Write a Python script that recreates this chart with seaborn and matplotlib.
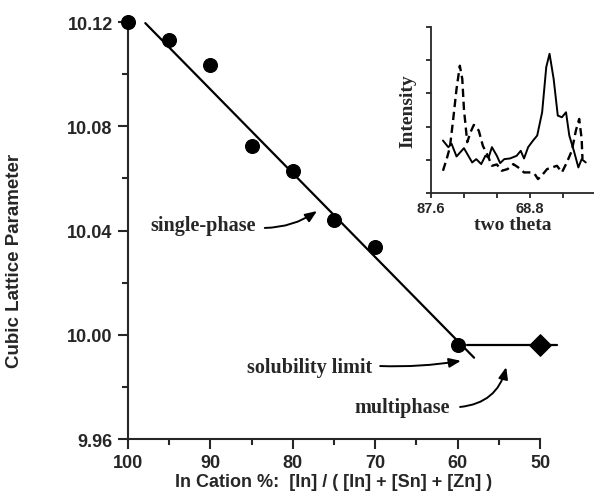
import matplotlib
matplotlib.use('Agg')
import matplotlib.pyplot as plt
import seaborn as sns
import pandas as pd
from matplotlib.ticker import MultipleLocator, FixedLocator

# Messwerte: Gitterparameter vs. In-Anteil
in_pct = [100, 95, 90, 85, 80, 75, 70, 60]
lattice = [10.120, 10.113, 10.1035, 10.0723, 10.063, 10.044, 10.0338, 9.996]
multi_pct = [50]
multi_lattice = [9.996]

# Ausgleichsgerade (einphasig) und Plateau (mehrphasig)
fit_x = [97.9, 58.0]
fit_y = [10.1196, 9.9912]
plateau_x = [58.9, 47.9]
plateau_y = [9.996, 9.996]

# Inset: Roentgenreflexe
solid_theta = [67.745, 67.81, 67.85, 67.91, 68.00, 68.10, 68.15, 68.21, 68.26, 68.30,
               68.34, 68.40, 68.44, 68.49, 68.56, 68.64, 68.69, 68.73, 68.78, 68.84,
               68.89, 68.95, 69.00, 69.04, 69.09, 69.14, 69.19, 69.24, 69.28, 69.34,
               69.39, 69.43, 69.48]
solid_int = [1.58, 1.38, 1.48, 1.10, 1.35, 0.92, 1.02, 0.87, 1.12, 1.07,
             1.38, 1.12, 0.90, 1.02, 1.04, 1.12, 1.27, 1.04, 1.38, 1.58,
             1.73, 2.43, 3.79, 4.19, 3.43, 2.33, 2.28, 2.43, 1.73, 1.23,
             0.77, 1.02, 0.92]
dash_theta = [67.745, 67.79, 67.83, 67.87, 67.91, 67.95, 67.98, 68.00, 68.04, 68.08,
              68.12, 68.18, 68.23, 68.29, 68.34, 68.40, 68.46, 68.53, 68.60, 68.66,
              68.73, 68.81, 68.86, 68.90, 68.96, 69.01, 69.07, 69.13, 69.19, 69.25,
              69.31, 69.36, 69.40, 69.43, 69.44]
dash_int = [0.67, 1.02, 1.38, 2.23, 3.13, 3.83, 3.43, 2.53, 1.53, 1.83,
            2.05, 1.88, 1.42, 1.12, 0.82, 0.86, 0.67, 0.72, 0.87, 0.77,
            0.62, 0.62, 0.57, 0.42, 0.57, 0.72, 0.77, 0.82, 0.62, 0.92,
            1.27, 1.88, 2.23, 1.63, 1.02]

sns.set_style('ticks')
plt.rcParams['font.family'] = ['Liberation Sans', 'DejaVu Sans']
serif = ['Liberation Serif', 'DejaVu Serif']

fig = plt.figure(figsize=(5.94, 5.02), dpi=100)
ax = fig.add_axes([0.2155, 0.1235, 0.6936, 0.8305])

sns.lineplot(x=fit_x, y=fit_y, ax=ax, color='black', linewidth=1.6, estimator=None, sort=False)
sns.lineplot(x=plateau_x, y=plateau_y, ax=ax, color='black', linewidth=1.6, estimator=None, sort=False)
sns.scatterplot(x=in_pct, y=lattice, ax=ax, color='black', s=100, marker='o',
                edgecolor='black', zorder=5)
sns.scatterplot(x=multi_pct, y=multi_lattice, ax=ax, color='black', s=120, marker='D',
                edgecolor='black', zorder=5)
for c in ax.collections:
    c.set_clip_on(False)
for l in ax.lines:
    l.set_clip_on(False)

ax.set_xlim(100, 50)
ax.set_ylim(9.96, 10.12)
ax.xaxis.set_major_locator(MultipleLocator(10))
ax.xaxis.set_minor_locator(MultipleLocator(5))
ax.yaxis.set_major_locator(MultipleLocator(0.04))
ax.yaxis.set_minor_locator(MultipleLocator(0.02))
ax.yaxis.set_major_formatter(matplotlib.ticker.FormatStrFormatter('%.2f'))
sns.despine(ax=ax)
for s in ['left', 'bottom']:
    ax.spines[s].set_linewidth(1.5)
ax.tick_params(which='major', direction='out', length=7, width=1.5, labelsize=13, pad=4)
ax.tick_params(which='minor', direction='out', length=4, width=1.5)
for t in ax.get_xticklabels() + ax.get_yticklabels():
    t.set_fontweight('bold')
ax.set_xlabel('In Cation %:  [In] / ( [In] + [Sn] + [Zn] )', fontsize=13, fontweight='bold', labelpad=1)
ax.set_ylabel('Cubic Lattice Parameter', fontsize=13.5, fontweight='bold')
ax.yaxis.set_label_coords(-0.255, 0.43)

# Beschriftungen mit Pfeilen
txt = dict(fontsize=14.5, fontweight='bold', family=serif, ha='center', va='center')
ax.text(90.9, 10.0421, 'single-phase', **txt)
ax.text(77.9, 9.9876, 'solubility limit', **txt)
ax.text(66.75, 9.9723, 'multiphase', **txt)
arr = dict(arrowstyle='-|>,head_length=0.5,head_width=0.2', color='black', lw=1.4,
           mutation_scale=14, shrinkA=0, shrinkB=0)
ax.annotate('', xy=(77.06, 10.0475), xytext=(83.4, 10.041),
            arrowprops=dict(connectionstyle='arc3,rad=0.15', **arr))
ax.annotate('', xy=(59.6, 9.990), xytext=(69.4, 9.988),
            arrowprops=dict(connectionstyle='arc3,rad=0.05', **arr))
ax.annotate('', xy=(54.1, 9.9876), xytext=(59.7, 9.9723),
            arrowprops=dict(connectionstyle='arc3,rad=0.35', **arr))

# Inset
ins = fig.add_axes([0.7256, 0.6135, 0.2744, 0.331])
df_s = pd.DataFrame({'theta': solid_theta, 'I': solid_int})
df_d = pd.DataFrame({'theta': dash_theta, 'I': dash_int})
sns.lineplot(data=df_s, x='theta', y='I', ax=ins, color='black', linewidth=1.4, estimator=None, sort=False)
sns.lineplot(data=df_d, x='theta', y='I', ax=ins, color='black', linewidth=1.7, estimator=None,
             sort=False, linestyle=(0, (3.5, 2)))
ins.set_xlim(67.6, 69.58)
ins.set_ylim(0, 5)
ins.xaxis.set_major_locator(FixedLocator([67.6, 68.0, 68.4, 68.8, 69.2]))
ins.set_xticklabels(['87.6', '', '', '68.8', ''])
ins.yaxis.set_major_locator(MultipleLocator(1))
ins.set_yticklabels([])
sns.despine(ax=ins)
for s in ['left', 'bottom']:
    ins.spines[s].set_linewidth(1.3)
ins.tick_params(direction='out', length=3.5, width=1.3, labelsize=10.5, pad=2)
for t in ins.get_xticklabels():
    t.set_fontweight('bold')
ins.set_xlabel('two theta', fontsize=14, fontweight='bold', family=serif, labelpad=1)
ins.set_ylabel('Intensity', fontsize=14, fontweight='bold', family=serif, labelpad=5)

fig.savefig('out.png', dpi=100)
